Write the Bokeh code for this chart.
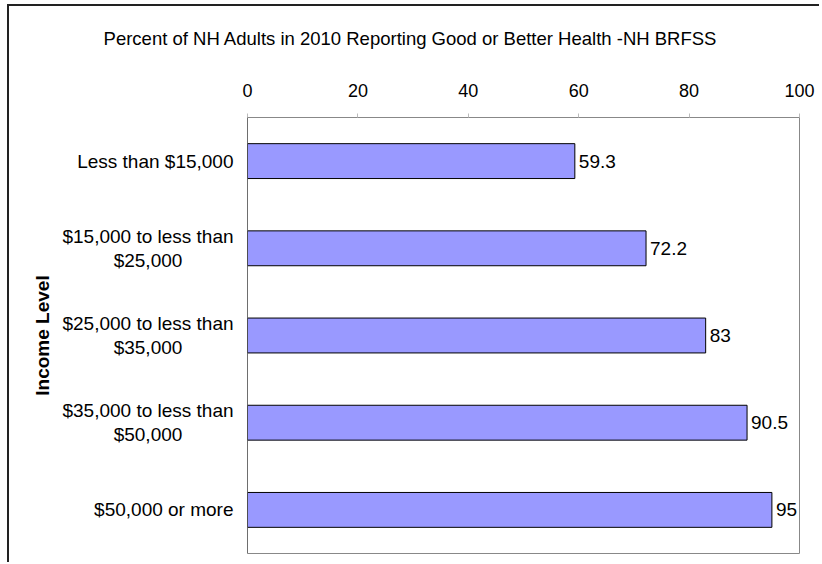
import math
from bokeh.plotting import figure
from bokeh.layouts import column, row
from bokeh.models import ColumnDataSource, LabelSet, FactorRange, Range1d, Span
from bokeh.transform import dodge
from bokeh.core.properties import value
from bokeh.embed import file_html
from bokeh.resources import INLINE

categories = [
    "Less than $15,000",
    "$15,000 to less than\n$25,000",
    "$25,000 to less than\n$35,000",
    "$35,000 to less than\n$50,000",
    "$50,000 or more",
]
values = [59.3, 72.2, 83, 90.5, 95]
value_labels = ["59.3", "72.2", "83", "90.5", "95"]
x_ticks = [0, 20, 40, 60, 80, 100]
axis_title = "Income Level"
chart_title = "Percent of NH Adults in 2010 Reporting Good or Better Health -NH BRFSS"

src = ColumnDataSource(dict(cat=categories, val=values, lab=value_labels))

# category labels: one-line names right-aligned; two-line names split, each line centred
single_cat, single_txt = [], []
l1_cat, l1_txt, l2_cat, l2_txt = [], [], [], []
for c in categories:
    parts = c.split("\n")
    if len(parts) == 1:
        single_cat.append(c)
        single_txt.append(c)
    else:
        l1_cat.append(c)
        l1_txt.append(parts[0])
        l2_cat.append(c)
        l2_txt.append(parts[1])
src_single = ColumnDataSource(dict(cat=single_cat, txt=single_txt))
src_l1 = ColumnDataSource(dict(cat=l1_cat, txt=l1_txt))
src_l2 = ColumnDataSource(dict(cat=l2_cat, txt=l2_txt))
src_axis = ColumnDataSource(dict(cat=[categories[2]], txt=[axis_title]))

FONT = "Liberation Sans"
yr = FactorRange(factors=list(reversed(categories)))

# ---- title strip
top = figure(width=810, height=60, x_range=Range1d(0, 810), y_range=Range1d(0, 60),
             x_axis_type=None, y_axis_type=None, output_backend="svg",
             toolbar_location=None, tools="", min_border=0)
top.outline_line_color = None
top.grid.grid_line_color = None
top.text(x=[401], y=[28], text=[chart_title], text_align="center",
         text_baseline="middle", text_font=value(FONT),
         text_font_size=value("18.5px"), text_color="black")

# ---- category labels panel
left = figure(width=228, height=496, x_range=Range1d(0, 228), y_range=yr,
              x_axis_type=None, y_axis_type=None, output_backend="svg",
              toolbar_location=None, tools="",
              min_border_left=0, min_border_right=0, min_border_top=51, min_border_bottom=9)
left.outline_line_color = None
left.grid.grid_line_color = None
txt_kw = dict(text_font=value(FONT), text_font_size=value("19px"), text_color="black",
              text_baseline="middle")
left.text(x=224, y="cat", text="txt", source=src_single, text_align="right", **txt_kw)
left.text(x=138.5, y=dodge("cat", 0.138, range=yr), text="txt", source=src_l1,
          text_align="center", **txt_kw)
left.text(x=138.5, y=dodge("cat", -0.138, range=yr), text="txt", source=src_l2,
          text_align="center", **txt_kw)
left.text(x=33, y="cat", text="txt", source=src_axis, angle=math.pi / 2,
          text_align="center", text_baseline="middle", text_font=value(FONT),
          text_font_size=value("19px"), text_font_style=value("bold"), text_color="black")

# ---- bars
p = figure(
    width=582, height=496,
    y_range=yr, x_range=Range1d(0, 100),
    x_axis_location="above",
    output_backend="svg", toolbar_location=None, tools="",
    min_border_left=10, min_border_right=20, min_border_top=51, min_border_bottom=9,
)
p.hbar(y="cat", right="val", left=0, height=0.4, source=src,
       fill_color="#9999ff", line_color="black", line_width=1)

labels = LabelSet(x="val", y="cat", text="lab", source=src, x_offset=4,
                  text_baseline="middle", text_font=value(FONT),
                  text_font_size=value("19px"), text_color="black")
p.add_layout(labels)
p.add_layout(Span(location=0, dimension="height", line_color="#555555", line_width=1))

p.xgrid.grid_line_color = None
p.ygrid.grid_line_color = None
p.outline_line_color = "#888888"
p.background_fill_color = "white"
p.border_fill_color = "white"

xa = p.xaxis[0]
xa.ticker = x_ticks
xa.major_label_text_font = FONT
xa.major_label_text_font_size = "18px"
xa.major_label_text_color = "black"
xa.axis_line_color = "#888888"
xa.major_tick_out = 4
xa.major_tick_in = 0
xa.major_tick_line_color = "#bbbbbb"
xa.minor_tick_line_color = None
xa.major_label_standoff = 17
p.yaxis.visible = False

page = column(top, row(left, p, spacing=0), spacing=0,
              styles={"border-left": "2px solid #222222",
                      "border-top": "2px solid #222222",
                      "margin-left": "7px", "margin-top": "4px"})

open("out.html", "w").write(file_html(page, INLINE))
